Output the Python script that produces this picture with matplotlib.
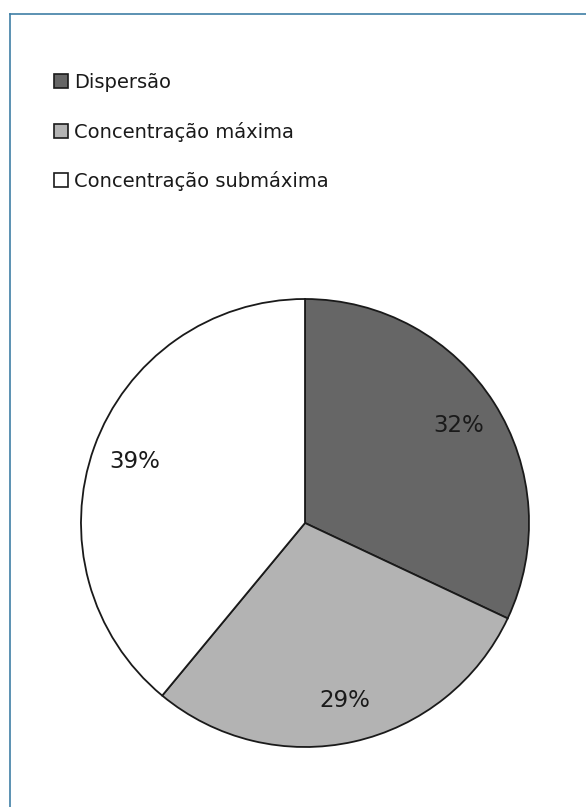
import matplotlib
matplotlib.use("Agg")
import matplotlib.pyplot as plt
from matplotlib.patches import Patch
from matplotlib.lines import Line2D

plt.rcParams["font.family"] = ["DejaVu Sans"]

categories = ["Dispersão", "Concentração máxima", "Concentração submáxima"]
values = [32, 29, 39]
colors = ["#666666", "#b3b3b3", "#ffffff"]

W, H = 586, 807
fig = plt.figure(figsize=(W / 100, H / 100), dpi=100)
fig.patch.set_facecolor("white")

# frame lines
fig.add_artist(Line2D([10 / W, 1.0], [1 - 14 / H, 1 - 14 / H], transform=fig.transFigure,
                      color="#3f7fa6", lw=1.2))
fig.add_artist(Line2D([10 / W, 10 / W], [0, 1 - 14 / H], transform=fig.transFigure,
                      color="#3f7fa6", lw=1.2))

cx, cy, R = 305, 523, 224
m = 1.05
ax = fig.add_axes([(cx - R * m) / W, (H - cy - R * m) / H, 2 * R * m / W, 2 * R * m / H])
wedges, texts, autotexts = ax.pie(values, colors=colors, startangle=90, counterclock=False,
                                  autopct="%1.0f%%", pctdistance=0.81,
                                  wedgeprops=dict(edgecolor="#1a1a1a", linewidth=1.3),
                                  textprops=dict(fontsize=16.5, color="#1a1a1a"))
ax.set_xlim(-m, m)
ax.set_ylim(-m, m)
ax.set_aspect("equal")
ax.axis("off")

handles = [Patch(facecolor=c, edgecolor="#1a1a1a", linewidth=1.2) for c in colors]
leg = fig.legend(handles, categories, loc="upper left", bbox_to_anchor=(54 / W, 1 - 73 / H),
                 frameon=False, fontsize=14, handlelength=0.7, handleheight=0.7,
                 handletextpad=0.35, labelspacing=1.52, borderaxespad=0, borderpad=0)
plt.setp(leg.get_texts(), color="#1a1a1a")

fig.savefig("out.png", dpi=100)
